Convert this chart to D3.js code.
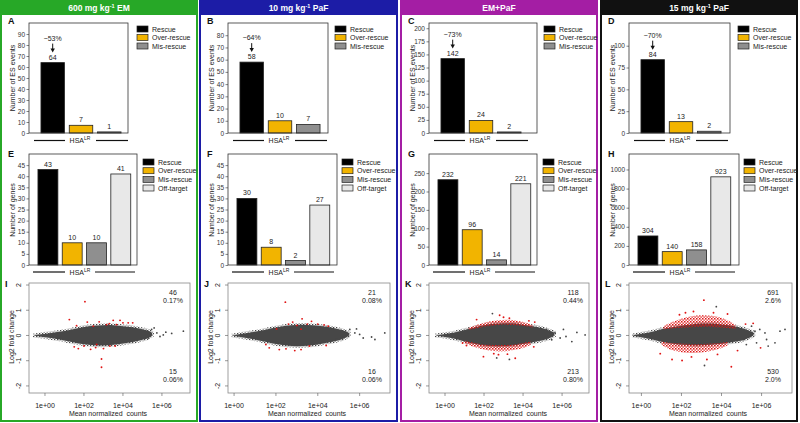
<!DOCTYPE html>
<html><head><meta charset="utf-8">
<script src="https://cdn.jsdelivr.net/npm/d3@7"></script>
<style>body{margin:0;background:#fff}svg{display:block}text{font-family:"Liberation Sans",Arial,Helvetica,sans-serif}</style>
</head><body><svg id="c" width="800" height="423"></svg>
<script>
// ---------------- DATA ----------------
const titlePre = ["600 mg kg", "10 mg kg", "EM+PaF", "15 mg kg"];
const titleSup = ["-1", "-1", "", "-1"];
const titlePost = [" EM", " PaF", "", " PaF"];
const lettersTop = ["A", "B", "C", "D"];
const lettersMid = ["E", "F", "G", "H"];
const lettersBot = ["I", "J", "K", "L"];

const eventCats = ["Rescue", "Over-rescue", "Mis-rescue"];
const geneCats = ["Rescue", "Over-rescue", "Mis-rescue", "Off-target"];
const catColors = ["#000000", "#f2b400", "#8f8f8f", "#e8e8e8"];

const esEvents = [[64, 7, 1], [58, 10, 7], [142, 24, 2], [84, 13, 2]];
const esPct = ["~53%", "~64%", "~73%", "~70%"];
const esYMax = [100, 90, 210, 126];
const esTickStep = [10, 10, 25, 25];
const esTickMax = [90, 80, 200, 100];

const geneCounts = [[43, 10, 10, 41], [30, 8, 2, 27], [232, 96, 14, 221], [304, 140, 158, 923]];
const geneYMax = [50, 50, 302, 1162];
const geneTickStep = [5, 5, 50, 200];
const geneTickMax = [45, 45, 250, 1000];

const maTicks = [0, 2, 4, 6];
const maTickLabels = ["1e+00", "1e+02", "1e+04", "1e+06"];
const maYTicks = [-2, -1, 0, 1, 2];
const maUpCount = ["46", "21", "118", "691"];
const maUpPct = ["0.17%", "0.08%", "0.44%", "2.6%"];
const maDnCount = ["15", "16", "213", "530"];
const maDnPct = ["0.06%", "0.06%", "0.80%", "2.0%"];

// cloud envelopes: [log10 mean, lower, upper]
const cloudI = [[-0.6,0,0],[-0.2,-0.05,0.05],[0.3,-0.1,0.1],[1,-0.2,0.18],[1.5,-0.28,0.26],[2,-0.35,0.34],[2.5,-0.39,0.39],[3,-0.4,0.41],[3.5,-0.37,0.41],[4,-0.32,0.37],[4.5,-0.26,0.33],[5,-0.17,0.25],[5.3,-0.1,0.19],[5.5,0,0.1]];
const cloudJ = [[-0.1,0,0],[0.3,-0.06,0.06],[1,-0.16,0.15],[1.5,-0.25,0.23],[2,-0.34,0.32],[2.5,-0.4,0.39],[3,-0.43,0.42],[3.5,-0.41,0.42],[4,-0.36,0.39],[4.5,-0.28,0.34],[5,-0.19,0.25],[5.3,-0.1,0.18],[5.5,0,0.1]];
const cloudK = [[-0.5,0,0],[0,-0.06,0.06],[0.5,-0.13,0.12],[1,-0.24,0.22],[1.5,-0.33,0.32],[2,-0.4,0.41],[2.5,-0.43,0.46],[3,-0.43,0.48],[3.5,-0.4,0.48],[4,-0.34,0.43],[4.5,-0.27,0.37],[5,-0.19,0.29],[5.3,-0.12,0.21],[5.6,0,0.12]];
const cloudL = [[-0.45,0,0],[0,-0.07,0.07],[0.5,-0.15,0.14],[1,-0.25,0.25],[1.5,-0.32,0.33],[2,-0.37,0.39],[2.5,-0.39,0.44],[3,-0.39,0.47],[3.5,-0.37,0.47],[4,-0.33,0.44],[4.5,-0.27,0.39],[5,-0.2,0.3],[5.3,-0.12,0.22],[5.6,0,0.12]];

// dense red fringes: [log10 mean, inner, outer]
const redUpK = [[1.2,0.22,0.3],[1.7,0.3,0.44],[2.2,0.37,0.54],[2.7,0.42,0.6],[3.2,0.43,0.62],[3.7,0.41,0.58],[4.2,0.36,0.49],[4.5,0.32,0.4]];
const redDnK = [[1.0,-0.2,-0.3],[1.5,-0.29,-0.46],[2,-0.36,-0.56],[2.5,-0.38,-0.62],[3,-0.38,-0.63],[3.5,-0.36,-0.58],[4,-0.3,-0.5],[4.4,-0.24,-0.37]];
const redUpL = [[1.1,0.24,0.36],[1.5,0.28,0.52],[2,0.31,0.66],[2.5,0.33,0.76],[3,0.34,0.8],[3.5,0.34,0.78],[4,0.32,0.7],[4.4,0.29,0.56],[4.7,0.27,0.42]];
const redDnL = [[1.0,-0.24,-0.36],[1.4,-0.29,-0.55],[2,-0.32,-0.66],[2.5,-0.34,-0.69],[3,-0.34,-0.67],[3.5,-0.32,-0.61],[4,-0.29,-0.5],[4.3,-0.26,-0.4]];

const redPtsI = [[2.05,1.34],[1.25,0.63],[2.9,-0.93],[2.9,-1.26],[2.17,0.53],[2.78,0.54],[3.5,0.6],[3.85,0.6],[4.0,0.5],[4.27,0.5],[4.5,0.5],[1.62,0.39],[2.48,0.37],[3.16,0.43],[3.67,0.43],[3.3,0.47],[1.71,-0.52],[2.0,-0.42],[2.34,-0.55],[3.0,-0.52],[3.33,-0.42],[3.6,-0.42],[2.65,-0.36],[1.5,-0.45],[2.6,-0.48]];
const redPtsJ = [[2.45,1.32],[3.25,0.66],[2.8,0.53],[3.7,0.56],[4.0,0.45],[4.5,0.37],[4.3,0.42],[3.5,0.45],[2.6,0.45],[3.0,0.4],[2.03,0.26],[3.2,0.25],[1.68,-0.49],[2.16,-0.56],[2.48,-0.53],[3.2,-0.56],[3.6,-0.42],[4.4,-0.4],[1.52,-0.36],[2.9,-0.6]];
const redPtsK = [[1.62,0.63],[2.8,0.8],[3.0,0.72],[3.3,0.68],[4.6,0.53],[4.3,0.58],[1.97,-0.84],[2.5,-0.72],[2.74,-0.76],[3.2,-0.74],[3.6,-0.9],[1.1,-0.4],[0.9,-0.3],[4.55,-0.45]];
const redPtsL = [[3.12,1.4],[4.49,-1.24],[1.53,-0.95],[2.03,-0.99],[3.27,-0.95],[0.94,-0.72],[5.58,0.48],[5.95,-0.49],[2.6,0.95],[2.2,0.9],[3.6,0.9],[4.3,0.85],[1.9,0.82],[5.2,0.45],[4.8,-0.6],[2.5,-0.85],[3.8,-0.75]];

const grayPtsI = [[5.47,0.24],[5.74,0.1],[6.07,0.02],[6.2,0.13],[6.5,0.08],[7.1,0.17],[5.3,-0.1],[5.9,-0.04],[5.0,-0.1],[5.6,0.3]];
const grayPtsJ = [[5.53,0.24],[5.77,0.1],[5.85,0.26],[6.17,-0.1],[6.57,-0.06],[6.73,-0.16],[7.2,0.1],[5.2,-0.03],[4.9,-0.16],[6.0,0.04]];
const grayPtsK = [[2.43,0.87],[2.65,-0.89],[3.3,-0.95],[5.2,0.24],[5.64,0.1],[6.07,0.24],[6.2,-0.04],[6.5,-0.24],[6.76,0.12],[7.18,0.02],[5.9,-0.1],[5.47,-0.17]];
const grayPtsL = [[3.74,1.14],[3.15,-1.19],[5.5,0.37],[5.67,0.17],[5.91,0.24],[6.17,0.1],[6.25,-0.16],[6.33,-0.42],[6.67,-0.29],[6.92,0.17],[7.17,0.24],[5.24,-0.36],[5.08,-0.16],[5.75,-0.29]];

// ---------------- LAYOUT ----------------
const colLeft = [1, 200, 401, 601];
const colRight = [197, 397, 597, 797];
const colColors = ["#27a827", "#1c1ca6", "#a41ea4", "#111111"];
const topBoxRight = [127, 128, 136, 129];
const topLegX = [136, 135, 143, 137];
const midBoxRight = [136, 137, 136, 138];
const midLegX = [142, 142, 142, 143];
const maBoxRight = [189, 190, 188, 191];
const maXDom = [[-0.82, 7.44], [-0.29, 7.45], [-0.82, 7.38], [-0.62, 7.52]];

const clouds = [cloudI, cloudJ, cloudK, cloudL];
const redBands = [[], [], [redUpK, redDnK], [redUpL, redDnL]];
const redPts = [redPtsI, redPtsJ, redPtsK, redPtsL];
const grayPts = [grayPtsI, grayPtsJ, grayPtsK, grayPtsL];

const svg = d3.select("#c");
const defs = svg.append("defs");
const rp = defs.append("pattern").attr("id", "redDots").attr("patternUnits", "userSpaceOnUse").attr("width", 3).attr("height", 3);
rp.append("rect").attr("x", 0).attr("y", 0).attr("width", 1.5).attr("height", 1.5).attr("fill", "#e01414");
rp.append("rect").attr("x", 1.5).attr("y", 1.5).attr("width", 1.3).attr("height", 1.3).attr("fill", "#e01414");
const gp = defs.append("pattern").attr("id", "grayDots").attr("patternUnits", "userSpaceOnUse").attr("width", 3).attr("height", 3);
gp.append("rect").attr("x", 0).attr("y", 0).attr("width", 1.3).attr("height", 1.3).attr("fill", "#474747");
gp.append("rect").attr("x", 1.6).attr("y", 1.6).attr("width", 1.1).attr("height", 1.1).attr("fill", "#474747");

const TXT = "#222";
function txt(x, y, s, size, anchor) {
  return svg.append("text").attr("x", x).attr("y", y).attr("font-size", size).attr("text-anchor", anchor || "middle").attr("fill", TXT).text(s);
}
function vtxt(x, y, s, size) {
  return svg.append("text").attr("transform", `translate(${x},${y}) rotate(-90)`).attr("font-size", size).attr("text-anchor", "middle").attr("fill", TXT).text(s);
}
function hsa(L, y, x1, x2, x3, x4) {
  svg.append("line").attr("x1", L + x1).attr("x2", L + x2).attr("y1", y).attr("y2", y).attr("stroke", "#111").attr("stroke-width", 1.2);
  svg.append("line").attr("x1", L + x3).attr("x2", L + x4).attr("y1", y).attr("y2", y).attr("stroke", "#111").attr("stroke-width", 1.2);
  const t = svg.append("text").attr("x", L + 79).attr("y", y + 2.5).attr("font-size", 7).attr("text-anchor", "middle").attr("fill", TXT);
  t.append("tspan").text("HSA");
  t.append("tspan").attr("font-size", 5).attr("dy", -3).text("LR");
}
function yAxis(L, x0, scale, ticks) {
  const g = svg.append("g").attr("transform", `translate(${L + x0},0)`)
    .call(d3.axisLeft(scale).tickValues(ticks).tickFormat(d3.format("d")).tickSize(2.5).tickPadding(1.5));
  g.select(".domain").remove();
  g.selectAll("line").attr("stroke", "#333").attr("stroke-width", 0.6);
  g.selectAll("text").attr("font-size", 6.5).attr("fill", "#333").attr("font-family", '"Liberation Sans",Arial,sans-serif');
}
function legend(L, lx, rows, cats) {
  cats.forEach((c, k) => {
    svg.append("rect").attr("x", L + lx).attr("y", rows[k] - 3).attr("width", 11).attr("height", 6)
      .attr("fill", catColors[k]).attr("stroke", "#222").attr("stroke-width", 0.7);
    txt(L + lx + 15, rows[k] + 2.5, c, 7, "start");
  });
}

colLeft.forEach((L, i) => {
  const R = colRight[i];
  // frame and header
  svg.append("rect").attr("x", L).attr("y", 1).attr("width", R - L).attr("height", 420)
    .attr("fill", "none").attr("stroke", colColors[i]).attr("stroke-width", 2);
  svg.append("rect").attr("x", L - 1).attr("y", 0).attr("width", R - L + 2).attr("height", 15).attr("fill", colColors[i]);
  const t = svg.append("text").attr("x", (L + R) / 2).attr("y", 10.5).attr("text-anchor", "middle")
    .attr("fill", "#fff").attr("font-weight", "bold").attr("font-size", 8.5);
  t.append("tspan").text(titlePre[i]);
  if (titleSup[i]) {
    t.append("tspan").attr("font-size", 5.5).attr("dy", -3).text(titleSup[i]);
    t.append("tspan").attr("dy", 3).text(titlePost[i]);
  }

  // ---- top: ES events ----
  const yT = d3.scaleLinear().domain([0, esYMax[i]]).range([133, 23]);
  const xT = d3.scaleBand().domain(eventCats).range([L + 34.3, L + 125.7]).paddingInner(0.17).paddingOuter(0.2);
  svg.selectAll(null).data(esEvents[i]).enter().append("rect")
    .attr("x", (d, k) => xT(eventCats[k])).attr("width", xT.bandwidth())
    .attr("y", d => yT(d)).attr("height", d => 133 - yT(d))
    .attr("fill", (d, k) => catColors[k]).attr("stroke", "#222").attr("stroke-width", 0.8);
  esEvents[i].forEach((d, k) => {
    txt(xT(eventCats[k]) + xT.bandwidth() / 2, yT(d) - 3, String(d), 7);
  });
  const cx = xT(eventCats[0]) + xT.bandwidth() / 2, top0 = yT(esEvents[i][0]);
  txt(cx, top0 - 22, esPct[i], 7);
  svg.append("line").attr("x1", cx).attr("x2", cx).attr("y1", top0 - 19).attr("y2", top0 - 13).attr("stroke", "#111").attr("stroke-width", 1);
  svg.append("path").attr("d", `M${cx - 2.2},${top0 - 14}L${cx + 2.2},${top0 - 14}L${cx},${top0 - 10}Z`).attr("fill", "#111");
  svg.append("rect").attr("x", L + 28).attr("y", 23).attr("width", topBoxRight[i] - 28).attr("height", 110)
    .attr("fill", "none").attr("stroke", "#333").attr("stroke-width", 0.8);
  yAxis(L, 28, yT, d3.range(0, esTickMax[i] + 0.1, esTickStep[i]));
  vtxt(L + 14, 78, "Number of ES events", 7);
  svg.append("text").attr("x", L + 7).attr("y", 24).attr("font-size", 9).attr("font-weight", "bold").attr("fill", "#111").text(lettersTop[i]);
  legend(L, topLegX[i], [29, 37.5, 46], eventCats);
  hsa(L, 140.5, 33, 64, 95, 127);

  // ---- middle: genes ----
  const yM = d3.scaleLinear().domain([0, geneYMax[i]]).range([265, 154]);
  const xM = d3.scaleBand().domain(geneCats).range([L + 32.1, L + 134.6]).paddingInner(0.18).paddingOuter(0.2);
  svg.selectAll(null).data(geneCounts[i]).enter().append("rect")
    .attr("x", (d, k) => xM(geneCats[k])).attr("width", xM.bandwidth())
    .attr("y", d => yM(d)).attr("height", d => 265 - yM(d))
    .attr("fill", (d, k) => catColors[k]).attr("stroke", "#222").attr("stroke-width", 0.8);
  geneCounts[i].forEach((d, k) => {
    txt(xM(geneCats[k]) + xM.bandwidth() / 2, yM(d) - 3, String(d), 7);
  });
  svg.append("rect").attr("x", L + 28).attr("y", 154).attr("width", midBoxRight[i] - 28).attr("height", 111)
    .attr("fill", "none").attr("stroke", "#333").attr("stroke-width", 0.8);
  yAxis(L, 28, yM, d3.range(0, geneTickMax[i] + 0.1, geneTickStep[i]));
  vtxt(L + 13.5, 210, "Number of genes", 7);
  svg.append("text").attr("x", L + 7).attr("y", 157).attr("font-size", 9).attr("font-weight", "bold").attr("fill", "#111").text(lettersMid[i]);
  legend(L, midLegX[i], [162, 170.7, 179.4, 188], geneCats);
  hsa(L, 272, 32, 64, 94, 134);

  // ---- bottom: MA plot ----
  const xA = d3.scaleLinear().domain(maXDom[i]).range([L + 28, L + maBoxRight[i]]);
  const yA = d3.scaleLinear().domain([-2.28, 2.08]).range([393, 283]);
  const area = d3.area().x(d => xA(d[0])).y0(d => yA(d[1])).y1(d => yA(d[2])).curve(d3.curveCatmullRom);
  svg.append("path").attr("d", area(clouds[i])).attr("fill", "#474747")
    .attr("stroke", "url(#grayDots)").attr("stroke-width", 3.5);
  svg.selectAll(null).data(grayPts[i]).enter().append("circle")
    .attr("cx", d => xA(d[0])).attr("cy", d => yA(d[1])).attr("r", 0.9).attr("fill", "#474747");
  redBands[i].forEach(b => {
    svg.append("path").attr("d", area(b)).attr("fill", "url(#redDots)");
  });
  svg.selectAll(null).data(redPts[i]).enter().append("circle")
    .attr("cx", d => xA(d[0])).attr("cy", d => yA(d[1])).attr("r", 0.95).attr("fill", "#e01414");
  svg.append("rect").attr("x", L + 28).attr("y", 283).attr("width", maBoxRight[i] - 28).attr("height", 110)
    .attr("fill", "none").attr("stroke", "#888").attr("stroke-width", 0.8);
  maYTicks.forEach(v => {
    svg.append("line").attr("x1", L + 28).attr("x2", L + 25).attr("y1", yA(v)).attr("y2", yA(v)).attr("stroke", "#555").attr("stroke-width", 0.6);
    vtxt(L + 19.5, yA(v), String(v), 7);
  });
  maTicks.forEach((v, k) => {
    svg.append("line").attr("x1", xA(v)).attr("x2", xA(v)).attr("y1", 393).attr("y2", 396).attr("stroke", "#555").attr("stroke-width", 0.6);
    txt(xA(v), 407.5, maTickLabels[k], 7);
  });
  txt(L + 107, 415.5, "Mean normalized  counts", 7).attr("xml:space", "preserve");
  vtxt(L + 12.5, 337, "Log2 fold change", 7);
  svg.append("text").attr("x", L + 4).attr("y", 287).attr("font-size", 9).attr("font-weight", "bold").attr("fill", "#111").text(lettersBot[i]);
  txt(L + 172, 294.5, maUpCount[i], 7);
  txt(L + 172, 302.5, maUpPct[i], 7);
  txt(L + 172, 373.5, maDnCount[i], 7);
  txt(L + 172, 381.5, maDnPct[i], 7);
});
</script></body></html>
